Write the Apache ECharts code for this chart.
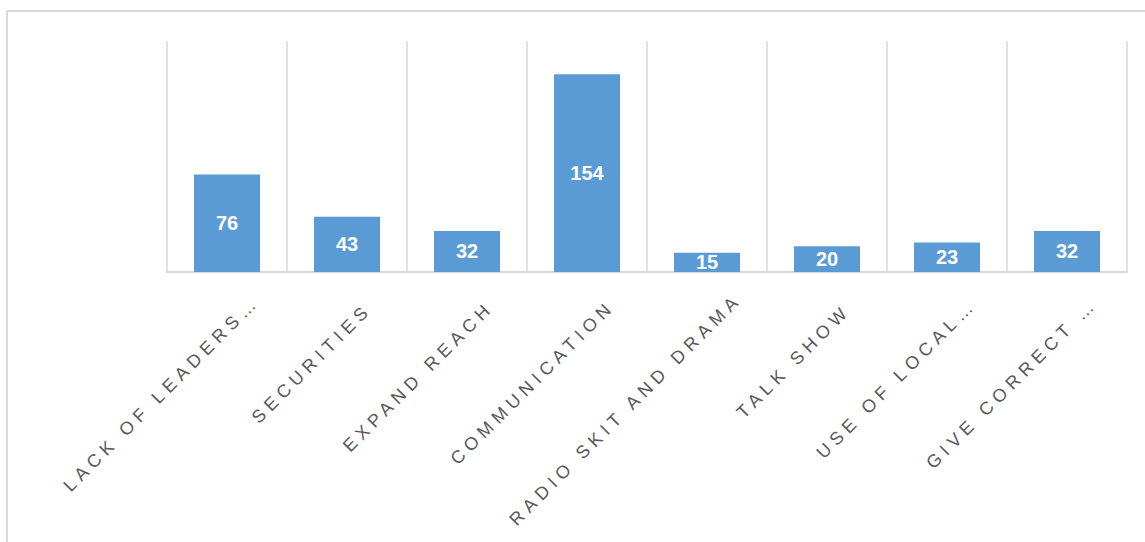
<!DOCTYPE html>
<html>
<head>
<meta charset="utf-8">
<script src="https://cdn.jsdelivr.net/npm/echarts@6/dist/echarts.min.js"></script>
<style>
  html, body { margin: 0; padding: 0; background: #ffffff; }
  #chart { width: 1145px; height: 542px; }
  #chart svg text[fill="#595959"], #chart svg text[fill="rgb(89,89,89)"] { letter-spacing: 5.3px; }
</style>
</head>
<body>
<div id="chart"></div>
<script>
const categories = ['LACK OF LEADERS…', 'SECURITIES', 'EXPAND REACH', 'COMMUNICATION', 'RADIO SKIT AND DRAMA', 'TALK SHOW', 'USE OF LOCAL…', 'GIVE CORRECT …'];
const values = [76, 43, 32, 154, 15, 20, 23, 32];

// label offset grows with text length (mimics the source's label placement)
function labelPadding(text) {
  const n = text.replace('…', '...').length;
  const shift = (2 * n + 23) / 1.414;
  return [2 * shift, -shift, 0, 0];
}

const chart = echarts.init(document.getElementById('chart'), null, { renderer: 'svg' });
chart.setOption({
  animation: false,
  backgroundColor: '#ffffff',
  graphic: [{
    type: 'rect',
    silent: true,
    shape: { x: 7, y: 11, width: 1400, height: 800 },
    style: { fill: 'none', stroke: '#d9d9d9', lineWidth: 2 }
  }],
  grid: { left: 167, right: 18, top: 41, bottom: 270, containLabel: false },
  xAxis: {
    type: 'category',
    data: categories.map(c => ({ value: c, textStyle: { padding: labelPadding(c) } })),
    axisLine: { lineStyle: { color: '#d9d9d9', width: 2 } },
    axisTick: { show: false },
    splitLine: { show: true, lineStyle: { color: '#d9d9d9', width: 1.5 } },
    axisLabel: {
      interval: 0,
      rotate: 45,
      margin: 56,
      color: '#595959',
      fontFamily: 'Liberation Sans',
      fontSize: 18
    }
  },
  yAxis: {
    type: 'value',
    min: 0,
    max: 180,
    show: false,
    splitLine: { show: false }
  },
  series: [{
    type: 'bar',
    data: values,
    barWidth: '55%',
    itemStyle: { color: '#5b9bd5' },
    label: {
      show: true,
      position: 'inside',
      color: '#ffffff',
      fontFamily: 'Liberation Sans',
      fontWeight: 'bold',
      fontSize: 20
    }
  }]
});
</script>
</body>
</html>
